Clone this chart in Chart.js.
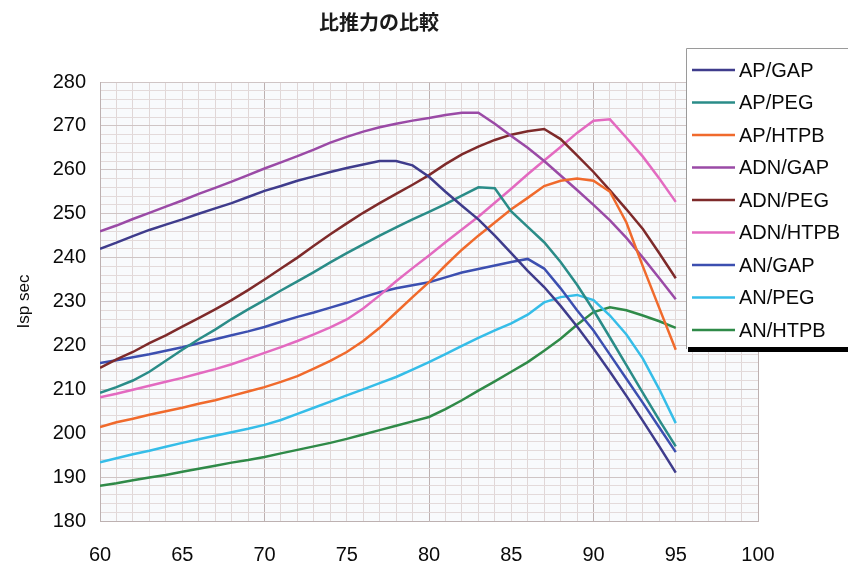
<!DOCTYPE html>
<html>
<head>
<meta charset="utf-8">
<script src="https://cdn.jsdelivr.net/npm/chart.js@4.4.0/dist/chart.umd.min.js"></script>
<style>
  html, body { margin: 0; padding: 0; background: #ffffff; }
  #wrap { width: 848px; height: 565px; position: relative; }
</style>
</head>
<body>
<div id="wrap"><canvas id="c" width="848" height="565"></canvas></div>
<script>
const chartTitle = '比推力の比較';
const yAxisTitle = 'Isp sec';
const seriesNames = ['AP/GAP', 'AP/PEG', 'AP/HTPB', 'ADN/GAP', 'ADN/PEG', 'ADN/HTPB', 'AN/GAP', 'AN/PEG', 'AN/HTPB'];
const seriesColors = ['#3f3c8c', '#2a8c88', '#f06a2c', '#9a4aa6', '#7e2a2a', '#e36ac0', '#3c4fb0', '#35bde8', '#2f8a48'];

// x values (oxidizer fraction, %)
const xs = [60,61,62,63,64,65,66,67,68,69,70,71,72,73,74,75,76,77,78,79,80,81,82,83,84,85,86,87,88,89,90,91,92,93,94,95];

const apGap   = [242,243.4,244.9,246.3,247.5,248.7,250,251.2,252.4,253.8,255.2,256.3,257.5,258.5,259.5,260.4,261.2,262,262,261,258.4,255,251.8,248.7,245,241,237,233.3,229,224.3,219.3,214,208.5,202.8,197,191];
const apPeg   = [209.2,210.5,212,214,216.5,219,221.4,223.6,226,228.2,230.3,232.5,234.6,236.7,238.9,241,243,245,246.9,248.7,250.4,252.2,254.1,256,255.8,250.5,247,243.5,239,233.8,228,221.8,215.5,209.2,203,197];
const apHtpb  = [201.4,202.5,203.3,204.2,205,205.8,206.7,207.5,208.5,209.5,210.5,211.7,213,214.7,216.5,218.5,221,224,227.5,231,234.4,238.2,241.8,245,248,251,253.6,256.3,257.5,258,257.5,255,248,238,228.5,219];
const adnGap  = [246,247.3,248.8,250.2,251.6,253,254.5,255.9,257.3,258.8,260.3,261.7,263.1,264.6,266.2,267.5,268.7,269.7,270.5,271.2,271.8,272.5,273,273,270.5,267.7,265,262,258.7,255.4,252,248.5,244.5,240,235.3,230.5];
const adnPeg  = [214.9,216.8,218.5,220.5,222.3,224.3,226.2,228.2,230.3,232.6,235,237.5,240,242.7,245.3,247.8,250.2,252.4,254.5,256.6,258.8,261.3,263.5,265.3,266.8,268,268.8,269.3,267,263.3,259.5,255.3,251,246.5,241,235.3];
const adnHtpb = [208.2,209,209.9,210.8,211.7,212.6,213.6,214.6,215.7,217,218.3,219.6,221,222.5,224.1,225.9,228.4,231.4,234.6,237.6,240.5,243.5,246.4,249.3,252.5,255.7,259,262.1,265.2,268.4,271.2,271.5,267.3,263,258,252.7];
const anGap   = [216,216.6,217.3,218,218.8,219.6,220.5,221.4,222.3,223.2,224.2,225.4,226.5,227.5,228.6,229.7,231,232.1,233,233.7,234.4,235.5,236.6,237.4,238.2,239,239.7,237.5,233,228,223.4,217.9,212.4,206.9,201.3,195.7];
const anPeg   = [193.4,194.3,195.2,196,196.9,197.8,198.6,199.4,200.2,201,201.9,203,204.4,205.8,207.2,208.6,210,211.4,212.8,214.5,216.2,218,219.9,221.7,223.4,225,227,229.8,231,231.5,230.3,226.8,222.5,217,210,202.3];
const anHtpb  = [188,188.6,189.3,189.9,190.5,191.2,191.9,192.6,193.3,193.9,194.6,195.4,196.2,197,197.8,198.7,199.7,200.7,201.7,202.7,203.7,205.5,207.5,209.7,211.8,214,216.2,218.8,221.5,224.7,227.6,228.7,228,226.8,225.5,224];

const seriesValues = [apGap, apPeg, apHtpb, adnGap, adnPeg, adnHtpb, anGap, anPeg, anHtpb];

const xMin = 60, xMax = 100, xStep = 1, xLabelEvery = 5;
const yMin = 180, yMax = 280, yStep = 2, yLabelEvery = 10;

const datasets = seriesNames.map((name, i) => ({
  label: name,
  data: xs.map((x, j) => ({ x: x, y: seriesValues[i][j] })),
  borderColor: seriesColors[i],
  backgroundColor: seriesColors[i],
  borderWidth: 2.5,
  pointRadius: 0,
  tension: 0,
  fill: false
}));

const legendPlugin = {
  id: 'boxLegend',
  afterDraw(chart) {
    const ctx = chart.ctx;
    const left = 686, top = 48, right = 848, bottom = 349;
    ctx.save();
    ctx.fillStyle = '#ffffff';
    ctx.fillRect(left, top, right - left, bottom - top);
    ctx.strokeStyle = '#9a9a9a';
    ctx.lineWidth = 1;
    ctx.beginPath();
    ctx.moveTo(left + 0.5, bottom);
    ctx.lineTo(left + 0.5, top + 0.5);
    ctx.lineTo(right, top + 0.5);
    ctx.stroke();
    ctx.fillStyle = '#000000';
    ctx.fillRect(left + 2, bottom - 2, right - left - 2, 5);
    ctx.font = '20px "Liberation Sans", Arial, sans-serif';
    ctx.textBaseline = 'middle';
    ctx.textAlign = 'left';
    chart.data.datasets.forEach((ds, i) => {
      const y = 70 + i * 32.5;
      ctx.strokeStyle = ds.borderColor;
      ctx.lineWidth = 2.5;
      ctx.beginPath();
      ctx.moveTo(692, y);
      ctx.lineTo(735, y);
      ctx.stroke();
      ctx.fillStyle = '#0a0a0a';
      ctx.fillText(ds.label, 739, y + 1);
    });
    ctx.restore();
  }
};

const bgPlugin = {
  id: 'plotBg',
  beforeDraw(chart) {
    const a = chart.chartArea;
    const ctx = chart.ctx;
    ctx.save();
    ctx.fillStyle = '#ffffff';
    ctx.fillRect(0, 0, chart.width, chart.height);
    ctx.fillStyle = '#f8fafc';
    ctx.fillRect(a.left, a.top, a.right - a.left, a.bottom - a.top);
    ctx.restore();
  }
};

new Chart(document.getElementById('c'), {
  type: 'line',
  data: { datasets: datasets },
  options: {
    responsive: false,
    animation: false,
    devicePixelRatio: 1,
    layout: { padding: { left: 0, right: 90, top: 0, bottom: 0 } },
    plugins: {
      legend: { display: false },
      tooltip: { enabled: false },
      title: {
        display: true,
        text: chartTitle,
        color: '#1a1a1a',
        font: { family: '"Noto Sans CJK JP", sans-serif', size: 20, weight: 'bold', lineHeight: 1.2 },
        padding: { top: 10, bottom: 48 }
      }
    },
    scales: {
      x: {
        type: 'linear',
        min: xMin, max: xMax,
        afterFit(scale) { scale.height = 44; },
        grid: {
          drawTicks: false,
          color: (c) => (c.tick && c.tick.value % 10 === 0) ? '#bdb1b1' : '#e0d7d7',
          lineWidth: 1
        },
        border: { color: '#bdb1b1' },
        ticks: {
          stepSize: xStep,
          autoSkip: false,
          maxRotation: 0,
          padding: 22,
          color: '#0a0a0a',
          font: { family: '"Liberation Sans", Arial, sans-serif', size: 20 },
          callback: (v) => (v % xLabelEvery === 0 ? String(v) : '')
        }
      },
      y: {
        type: 'linear',
        min: yMin, max: yMax,
        afterFit(scale) { scale.width = 100; },
        grid: {
          drawTicks: false,
          color: (c) => (c.tick && c.tick.value % 10 === 0) ? '#cfc5c5' : '#e3dada',
          lineWidth: 1
        },
        border: { color: '#bdb1b1' },
        title: {
          display: true,
          text: yAxisTitle,
          color: '#0a0a0a',
          font: { family: '"Liberation Sans", Arial, sans-serif', size: 17 },
          padding: { top: 14, bottom: 0 }
        },
        ticks: {
          stepSize: yStep,
          autoSkip: false,
          padding: 14,
          color: '#0a0a0a',
          font: { family: '"Liberation Sans", Arial, sans-serif', size: 20 },
          callback: (v) => (v % yLabelEvery === 0 ? String(v) : '')
        }
      }
    }
  },
  plugins: [bgPlugin, legendPlugin]
});
</script>
</body>
</html>
